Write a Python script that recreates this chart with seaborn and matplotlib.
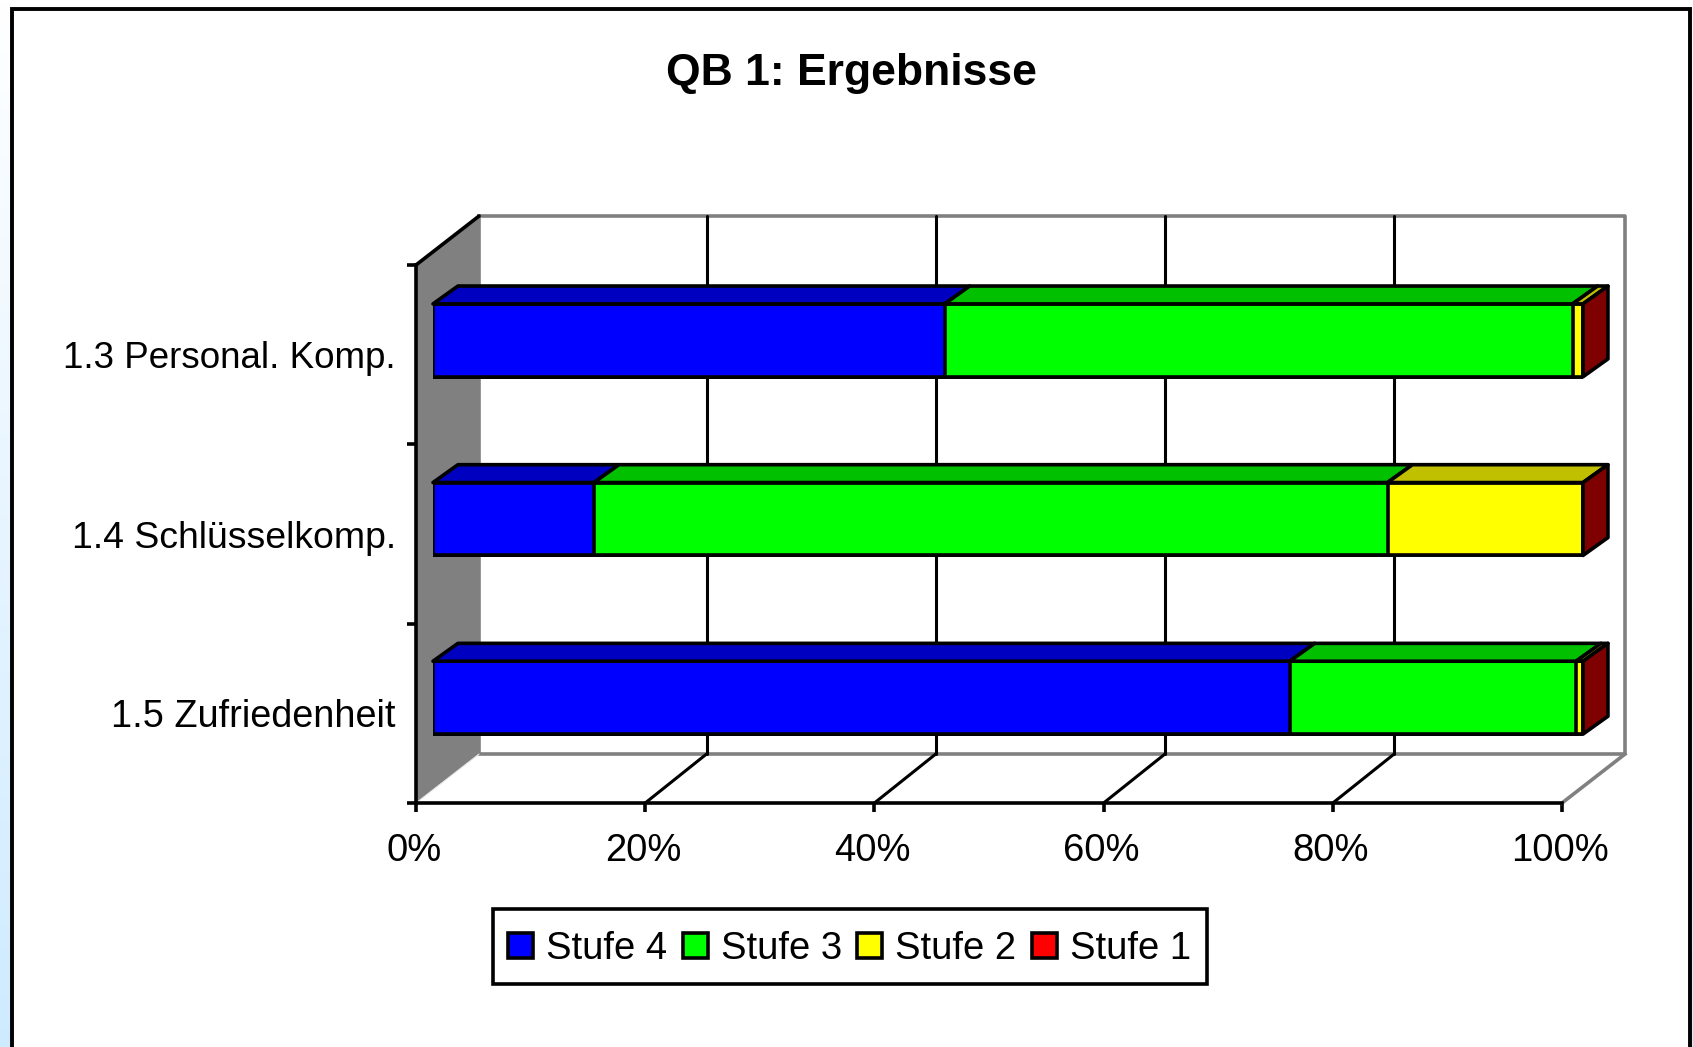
import numpy as np
import matplotlib
matplotlib.use("Agg")
import matplotlib.pyplot as plt
from matplotlib.patches import Rectangle
from matplotlib.transforms import ScaledTranslation
import seaborn as sns

# ---- data -------------------------------------------------------------
categories = ["1.3 Personal. Komp.", "1.4 Schlüsselkomp.", "1.5 Zufriedenheit"]
series_names = ["Stufe 4", "Stufe 3", "Stufe 2", "Stufe 1"]
stufe_4 = [44.5, 14.0, 74.5]
stufe_3 = [54.6, 69.0, 24.9]
stufe_2 = [0.9, 17.0, 0.6]
stufe_1 = [0.0, 0.0, 0.0]
x_ticks = [0, 20, 40, 60, 80, 100]
x_tick_labels = ["0%", "20%", "40%", "60%", "80%", "100%"]
title_text = "QB 1: Ergebnisse"

front_colors = ["#0000FF", "#00FF00", "#FFFF00", "#FF0000"]
top_colors = ["#0000C0", "#00C000", "#C0C000", "#C00000"]
side_color = "#7F0000"

# ---- layout helpers ---------------------------------------------------
W, H = 1693, 1047
sns.set_theme(style="white")
plt.rcParams["font.family"] = ["Liberation Sans", "DejaVu Sans"]
plt.rcParams["text.color"] = "black"
fig = plt.figure(figsize=(W / 100, H / 100), dpi=100, facecolor="white")


def box(x0, y0, x1, y1):
    return [x0 / W, 1 - y1 / H, (x1 - x0) / W, (y1 - y0) / H]


LW = 2.6
FS = 27.5

# background gradient and chart border
bg = fig.add_axes([0, 0, 1, 1], zorder=0)
bg.axis("off")
grad = np.linspace(0, 1, 256)[:, None, None] * np.array([0.19, 0.08, 0.0])
bg.imshow(1 - grad, aspect="auto", extent=(0, W, H, 0))
bg.add_patch(Rectangle((12, 8.5), 1678, 1100, facecolor="white",
                       edgecolor="black", linewidth=2.8, clip_on=True))
bg.add_patch(Rectangle((493, 909), 714, 75, facecolor="white",
                       edgecolor="black", linewidth=LW))
bg.set_xlim(0, W)
bg.set_ylim(H, 0)

# ---- base axes: value axis, walls, floor ------------------------------
base = fig.add_axes(box(416, 265, 1562, 803), zorder=1)
base.patch.set_visible(False)
base.set_xlim(0, 100)
base.set_ylim(3, 0)
sns.despine(ax=base)
for s in ("left", "bottom"):
    base.spines[s].set_linewidth(LW)
    base.spines[s].set_color("black")
base.set_xticks(x_ticks, labels=x_tick_labels)
base.set_yticks([0, 1, 2, 3], labels=[])
base.set_yticks([0.5, 1.5, 2.5], labels=categories, minor=True)
base.tick_params(axis="x", which="major", length=6.5, width=LW, color="black",
                 bottom=True, pad=15, labelsize=FS, labelcolor="black")
base.tick_params(axis="y", which="major", length=6.5, width=LW, color="black", left=True)
base.tick_params(axis="y", which="minor", length=0, pad=14.5, labelcolor="black")
for lab, size in zip(base.get_yticklabels(minor=True), [26.5, 26.9, 27.3]):
    lab.set_fontsize(size)
shift = ScaledTranslation(-2 / 100, 0, fig.dpi_scale_trans)
for lab in base.get_xticklabels():
    lab.set_transform(lab.get_transform() + shift)

DX, DY = 5.5, -0.273  # depth of the chart box
GRAY = "#808080"
base.fill([0, DX, DX, 0], [0, DY, 3 + DY, 3], color=GRAY, lw=0, clip_on=False, zorder=1)
gray_kw = dict(color=GRAY, lw=2.6, clip_on=False, zorder=1.5, solid_capstyle="projecting")
base.plot([DX, 100 + DX, 100 + DX, DX, DX], [DY, DY, 3 + DY, 3 + DY, DY], **gray_kw)
base.plot([100, 100 + DX], [3, 3 + DY], **gray_kw)
base.plot([0, DX], [3, 3 + DY], color="#e8e8e8", lw=0.8, clip_on=False, zorder=2)
base.plot([0, DX], [0, DY], color="black", lw=LW, clip_on=False, zorder=2)
for t in x_ticks[1:-1]:
    base.plot([t + DX - 0.15, t + DX - 0.15], [DY, 3 + DY], color="black", lw=2.2,
              clip_on=False, zorder=1.7)
    base.plot([t, t + DX - 0.15], [3, 3 + DY], color="black", lw=2.2, clip_on=False, zorder=1.7)

# ---- bars axes --------------------------------------------------------
ax = fig.add_axes(box(433, 251, 1583, 787), zorder=2)
ax.patch.set_visible(False)
series = [stufe_4, stufe_3, stufe_2, stufe_1]
cum = np.cumsum(np.array(series, dtype=float), axis=0)
cum = cum / cum[-1] * 100
BAR_H = 0.408
for i in range(3, -1, -1):  # widest first, narrower stacks paint over it
    sns.barplot(x=cum[i], y=categories, orient="h", color=front_colors[i], saturation=1,
                width=BAR_H, edgecolor="black", linewidth=LW, label=series_names[i],
                ax=ax, legend=False, zorder=3)
ax.set_xlim(0, 100)
ax.set_ylim(2.5, -0.5)

dx, dy = 2.17, -0.1  # depth of a bar
edge_kw = dict(edgecolor="black", linewidth=LW, clip_on=False, joinstyle="round")
for b in range(len(categories)):
    top = b - BAR_H / 2
    bottom = b + BAR_H / 2
    left = 0.0
    for i in range(4):
        right = cum[i, b]
        if right > left:
            ax.fill([left, right, right + dx, left + dx], [top, top, top + dy, top + dy],
                    facecolor=top_colors[i], zorder=3, **edge_kw)
        left = right
    ax.fill([100, 100 + dx, 100 + dx, 100], [top, top + dy, bottom + dy, bottom],
            facecolor=side_color, zorder=3, **edge_kw)
ax.axis("off")

# ---- legend and title -------------------------------------------------
handles, labels = ax.get_legend_handles_labels()
order = [labels.index(n) for n in series_names]
leg = fig.legend([handles[k] for k in order], [labels[k] for k in order],
                 ncols=4, loc="center", bbox_to_anchor=(849.5 / W, 1 - 949 / H),
                 fontsize=FS, frameon=False, handlelength=0.65, handleheight=0.62,
                 handletextpad=0.34, columnspacing=0.41, borderpad=0, borderaxespad=0)
leg.set_zorder(5)

fig.text(851 / W, 1 - 74 / H, title_text, ha="center", va="center",
         fontsize=32, fontweight="bold", color="black", zorder=6)

fig.savefig("out.png", dpi=100, facecolor="white")
